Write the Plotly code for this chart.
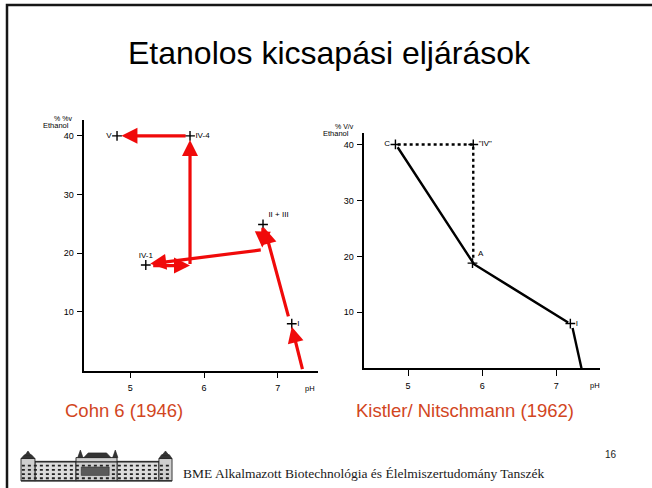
import plotly.graph_objects as go

W, H = 652, 488

# ---------------- data ----------------
# Left chart: Cohn 6 (1946)
cohn_points_ph = [4.82, 5.81, 5.21, 6.80, 7.19]
cohn_points_eth = [40.0, 40.0, 18.0, 24.9, 8.0]
cohn_labels = ["V", "IV-4", "IV-1", "II + III", "I"]
cohn_label_pos = ["middle left", "middle right", "top center", "top right", "middle right"]

cohn_arrow_from_ph = [7.34, 7.15, 6.80, 6.79, 5.29, 5.81, 5.77]
cohn_arrow_from_eth = [0.0, 9.0, 24.6, 20.6, 17.9, 17.9, 40.0]
cohn_arrow_to_ph = [7.19, 6.82, 6.79, 5.27, 5.81, 5.81, 4.88]
cohn_arrow_to_eth = [7.5, 24.3, 21.0, 18.2, 17.9, 39.3, 40.0]

# Right chart: Kistler / Nitschmann (1962)
kn_points_ph = [4.83, 5.88, 5.87, 7.19]
kn_points_eth = [40.0, 40.0, 18.8, 8.0]
kn_labels = ["C", "\"IV\"", "A", "I"]
kn_label_pos = ["middle left", "middle right", "top right", "middle right"]

kn_solid_low_ph = [7.34, 7.22]
kn_solid_low_eth = [0.0, 7.2]
kn_solid_main_ph = [7.16, 5.89, 4.86]
kn_solid_main_eth = [8.2, 18.6, 39.5]
kn_dotted_ph = [4.86, 5.88, 5.88]
kn_dotted_eth = [40.0, 40.0, 19.6]

y_ticks = [10, 20, 30, 40]
x_ticks = [5, 6, 7]

title_text = "Etanolos kicsapási eljárások"
caption_left = "Cohn 6 (1946)"
caption_right = "Kistler/ Nitschmann (1962)"
footer_text = "BME Alkalmazott Biotechnológia és Élelmiszertudomány Tanszék"
page_number = "16"

# ---------------- helpers ----------------
def px(x):
    return x / W


def py(y):
    return 1 - y / H


SANS = "Liberation Sans, Arial, sans-serif"
SERIF = "Liberation Serif, Times New Roman, serif"
RED = "#f00a0a"
CAP = "#d2461e"

fig = go.Figure()

marker_style = dict(symbol="cross-thin", size=7, line=dict(width=1.4, color="black"))

# left chart points
fig.add_trace(go.Scatter(
    x=cohn_points_ph, y=cohn_points_eth, mode="markers+text",
    text=cohn_labels, textposition=cohn_label_pos,
    textfont=dict(family=SANS, size=8, color="black"),
    marker=marker_style, xaxis="x", yaxis="y", showlegend=False, cliponaxis=False,
    hoverinfo="skip"))

# right chart lines
fig.add_trace(go.Scatter(x=kn_solid_low_ph, y=kn_solid_low_eth, mode="lines",
                         line=dict(color="black", width=2.4), hoverinfo="skip",
                         xaxis="x2", yaxis="y2", showlegend=False))
fig.add_trace(go.Scatter(x=kn_solid_main_ph, y=kn_solid_main_eth, mode="lines",
                         line=dict(color="black", width=2.4), hoverinfo="skip",
                         xaxis="x2", yaxis="y2", showlegend=False))
fig.add_trace(go.Scatter(x=kn_dotted_ph, y=kn_dotted_eth, mode="lines",
                         line=dict(color="black", width=2.4, dash="dot"), hoverinfo="skip",
                         xaxis="x2", yaxis="y2", showlegend=False))
fig.add_trace(go.Scatter(
    x=kn_points_ph, y=kn_points_eth, mode="markers+text",
    text=kn_labels, textposition=kn_label_pos,
    textfont=dict(family=SANS, size=8, color="black"),
    marker=marker_style, xaxis="x2", yaxis="y2", showlegend=False, cliponaxis=False,
    hoverinfo="skip"))

annotations = []
# red arrows on left chart
for fx, fy, tx, ty in zip(cohn_arrow_from_ph, cohn_arrow_from_eth, cohn_arrow_to_ph, cohn_arrow_to_eth):
    annotations.append(dict(
        x=tx, y=ty, ax=fx, ay=fy, xref="x", yref="y", axref="x", ayref="y",
        showarrow=True, arrowhead=2, arrowsize=1.0, arrowwidth=3.2,
        arrowcolor=RED, standoff=0, startstandoff=0, text=""))

axis_common = dict(showline=True, linecolor="black", linewidth=1.5, ticks="outside",
                   ticklen=6, tickwidth=1.3, tickcolor="black", showgrid=False,
                   zeroline=False, tickfont=dict(family=SANS, size=9, color="black"),
                   fixedrange=True)

fig.update_layout(
    width=W, height=H, margin=dict(l=0, r=0, t=0, b=0),
    paper_bgcolor="white", plot_bgcolor="white", hovermode=False,
    xaxis=dict(domain=[px(84.3), px(318.3)], range=[4.376, 7.55], anchor="y",
               tickvals=x_ticks, ticklabelstandoff=2, **axis_common),
    yaxis=dict(domain=[py(370.7), py(120)], range=[0, 42.7], anchor="x",
               tickvals=y_ticks, ticklabelstandoff=1, **axis_common),
    xaxis2=dict(domain=[px(364.3), px(600)], range=[4.41, 7.59], anchor="y2",
                tickvals=x_ticks, ticklabelstandoff=2, **axis_common),
    yaxis2=dict(domain=[py(368.3), py(132.7)], range=[0, 42.1], anchor="x2",
                tickvals=y_ticks, ticklabelstandoff=1, **axis_common),
)

def txt(x, y, s, size, color="black", family=SANS, xanchor="center", yanchor="middle"):
    annotations.append(dict(x=px(x), y=py(y), xref="paper", yref="paper", text=s,
                            showarrow=False, xanchor=xanchor, yanchor=yanchor,
                            font=dict(family=family, size=size, color=color)))

txt(329, 53, title_text, 32)
txt(63, 410, caption_left, 18.5, color=CAP, xanchor="left")
txt(354, 410, caption_right, 18.5, color=CAP, xanchor="left")
txt(181, 473, footer_text, 13.5, color="#1a1a1a", family=SERIF, xanchor="left")
txt(611, 454, page_number, 10, color="#222222")

# axis titles
txt(52, 118, "% %v", 7, xanchor="left")
txt(71, 125.5, "Ethanol", 7.5, xanchor="right")
txt(317, 388, "pH", 7.5, xanchor="right")
txt(333, 126, "% V/v", 7, xanchor="left")
txt(351, 133.5, "Ethanol", 7.5, xanchor="right")
txt(602, 385, "pH", 7.5, xanchor="right")

fig.update_layout(annotations=annotations)

# ---------------- decorations: slide border and logo ----------------
shapes = []
shapes.append(dict(type="rect", xref="paper", yref="paper",
                   x0=px(7), x1=px(700), y0=py(540), y1=py(5),
                   line=dict(color="#161616", width=2.5), fillcolor="rgba(0,0,0,0)"))


def lx(x):
    return 21 + (x - 27) * 0.873


def ly(y):
    return 451 + (y - 450) * 0.94


def rect(x0, y0, x1, y1, fill, line="#222222", lw=0.9):
    shapes.append(dict(type="rect", xref="paper", yref="paper",
                       x0=px(lx(x0)), x1=px(lx(x1)), y0=py(ly(y1)), y1=py(ly(y0)),
                       fillcolor=fill, line=dict(color=line, width=lw)))


def hline(x0, x1, y, color="#222222", w=1.8, dash="dot"):
    shapes.append(dict(type="line", xref="paper", yref="paper",
                       x0=px(lx(x0)), x1=px(lx(x1)), y0=py(ly(y)), y1=py(ly(y)),
                       line=dict(color=color, width=w, dash=dash)))


def path(points, fill="#333333"):
    d = "M " + " L ".join(f"{px(lx(a)):.5f},{py(ly(b)):.5f}" for a, b in points) + " Z"
    shapes.append(dict(type="path", xref="paper", yref="paper", path=d,
                       fillcolor=fill, line=dict(color="#222222", width=0.6)))

# wings
rect(43, 461, 90, 482, "#dcdcdc")
rect(137, 461, 185, 482, "#dcdcdc")
# centre block
rect(90, 457, 137, 482, "#cfcfcf")
# end pavilions
rect(27, 458, 43, 482, "#cfcfcf")
rect(185, 458, 200, 482, "#cfcfcf")
for yy in (465.5, 470, 474.5, 479):
    hline(28, 199, yy)
hline(43, 185, 461.5, color="#222222", w=1.3, dash="solid")
hline(27, 200, 481.5, color="#333333", w=1.3, dash="solid")
# roofs
path([(99, 457), (104, 452), (125, 452), (130, 457)])
path([(27, 458), (31, 454), (39, 454), (43, 458)])
path([(185, 458), (188, 454), (197, 454), (200, 458)])
# towers with spires
path([(92, 457), (95, 449), (98, 457)])
path([(132, 457), (135, 449), (138, 457)])
path([(32, 454), (35, 450), (38, 454)])
path([(189, 454), (192.5, 450), (196, 454)])
# dark entrance band
rect(96, 467, 128, 476, "#5a5a5a", lw=0.5)

fig.update_layout(shapes=shapes)

fig.write_html("out.html", config={"displayModeBar": False},
               post_script="document.body.style.margin='0';document.body.style.overflow='hidden';")
